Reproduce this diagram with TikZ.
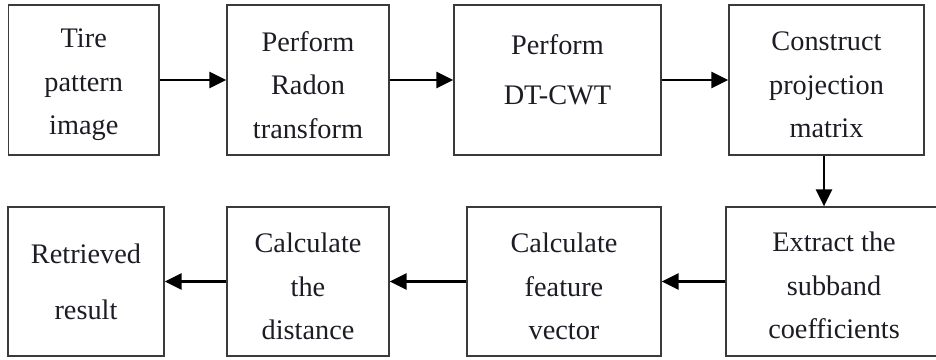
\documentclass[tikz,border=0pt]{standalone}
\usepackage{fontspec}
\setmainfont{Liberation Serif}
\usetikzlibrary{arrows.meta}
\definecolor{ink}{HTML}{1C1C24}
\definecolor{frame}{HTML}{3A3A3A}
\tikzset{
  stage/.style={draw=frame, line width=1.3pt, rectangle, inner sep=0pt},
  caption/.style={align=center, text=ink, inner sep=0pt,
    font=\fontsize{28.3}{43.5}\selectfont},
  flow/.style={line width=2.5pt, draw=black,
    -{Triangle[length=17pt,width=16pt]}}
}
\begin{document}
\begin{tikzpicture}[x=1pt,y=-1pt]
  \useasboundingbox (0,0) rectangle (936,359);
  \clip (0,0) rectangle (936,359);
  % upper row: boxes
  \node[stage, minimum width=150.5pt, minimum height=150pt] (b1) at (83.75,80) {};
  \node[stage, minimum width=162pt, minimum height=150pt] (b2) at (308,80) {};
  \node[stage, minimum width=207pt, minimum height=150pt] (b3) at (557.5,80) {};
  \node[stage, minimum width=195pt, minimum height=150pt] (b4) at (826.5,80) {};
  % lower row: boxes
  \node[stage, minimum width=156pt, minimum height=149pt] (b5) at (86,281.5) {};
  \node[stage, minimum width=162pt, minimum height=149pt] (b6) at (308,281.5) {};
  \node[stage, minimum width=194pt, minimum height=149pt] (b7) at (564,281.5) {};
  \node[stage, minimum width=216pt, minimum height=149pt] (b8) at (834,281.5) {};
  % box captions
  \node[caption] (t1) at ([yshift=-5pt]b1.center) {Tire\\pattern\\image};
  \node[caption] (t2) at ([yshift=-5pt]b2.center) {Perform\\Radon\\transform};
  \node[caption, font=\fontsize{28.3}{50}\selectfont] (t3) at ([yshift=10pt]b3.center) {Perform\\DT-CWT};
  \node[caption] (t4) at ([yshift=-5pt]b4.center) {Construct\\projection\\matrix};
  \node[caption, font=\fontsize{28.3}{56}\selectfont] (t5) at (b5.center) {Retrieved\\result};
  \node[caption] (t6) at ([yshift=-5pt]b6.center) {Calculate\\the\\distance};
  \node[caption] (t7) at ([yshift=-5pt]b7.center) {Calculate\\feature\\vector};
  \node[caption] (t8) at ([yshift=-4pt]b8.center) {Extract the\\subband\\coefficients};
  % connectors
  \coordinate (down) at (824,0);
  \draw[flow] (b1) -- (b2);
  \draw[flow] (b2) -- (b3);
  \draw[flow] (b3) -- (b4);
  \draw[flow] (b4.south -| down) -- (b8.north -| down);
  \draw[flow] (b8) -- (b7);
  \draw[flow] (b7) -- (b6);
  \draw[flow] (b6) -- (b5);
\end{tikzpicture}
\end{document}
